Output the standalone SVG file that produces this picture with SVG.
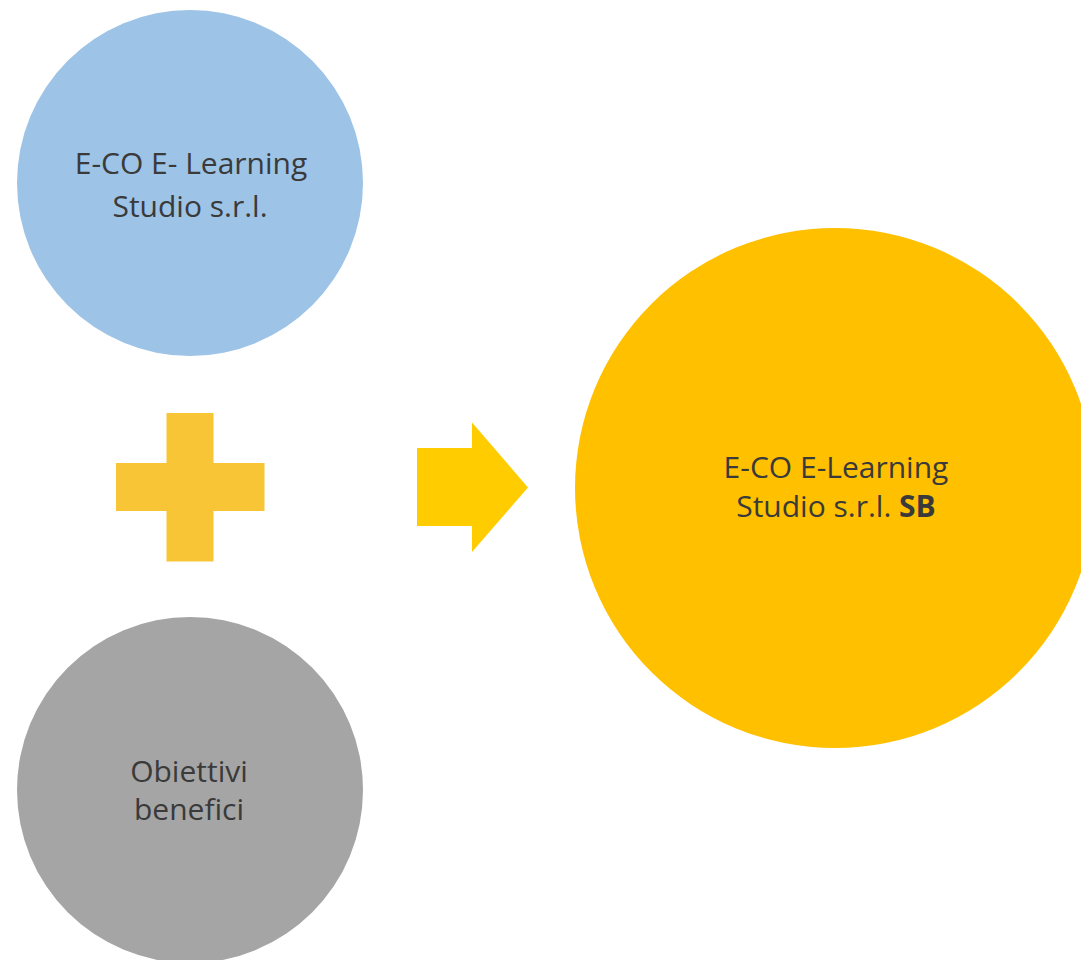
<svg xmlns="http://www.w3.org/2000/svg" width="1081" height="960" viewBox="0 0 1081 960">
<style>
  .lbl { font-family: "Open Sans", "Noto Sans", "Liberation Sans", sans-serif; font-size: 30px; fill: #3A3A3A; text-anchor: middle; }
  .b { font-weight: bold; }
</style>
<rect width="1081" height="960" fill="#FFFFFF"/>
<g id="node-eco">
  <circle cx="190" cy="183" r="173" fill="#9DC3E6"/>
  <text class="lbl" x="191" y="174">E-CO E- Learning</text>
  <text class="lbl" x="190" y="216.5">Studio s.r.l.</text>
</g>
<g id="node-obiettivi">
  <circle cx="190" cy="790" r="173" fill="#A5A5A5"/>
  <text class="lbl" x="189" y="781.5">Obiettivi</text>
  <text class="lbl" x="189" y="820">benefici</text>
</g>
<g id="node-plus">
  <path d="M166.5 413 H213.5 V463 H264.5 V511 H213.5 V561.5 H166.5 V511 H116 V463 H166.5 Z" fill="#F8C537"/>
</g>
<g id="connectors">
  <path d="M417 448 H472 V422.5 L528 487.5 L472 552 V526 H417 Z" fill="#FFCC00"/>
</g>
<g id="node-sb">
  <circle cx="835" cy="488" r="260" fill="#FFC000"/>
  <text class="lbl" x="836" y="478">E-CO E-Learning</text>
  <text class="lbl" x="836" y="516.5">Studio s.r.l. <tspan class="b">SB</tspan></text>
</g>
</svg>
